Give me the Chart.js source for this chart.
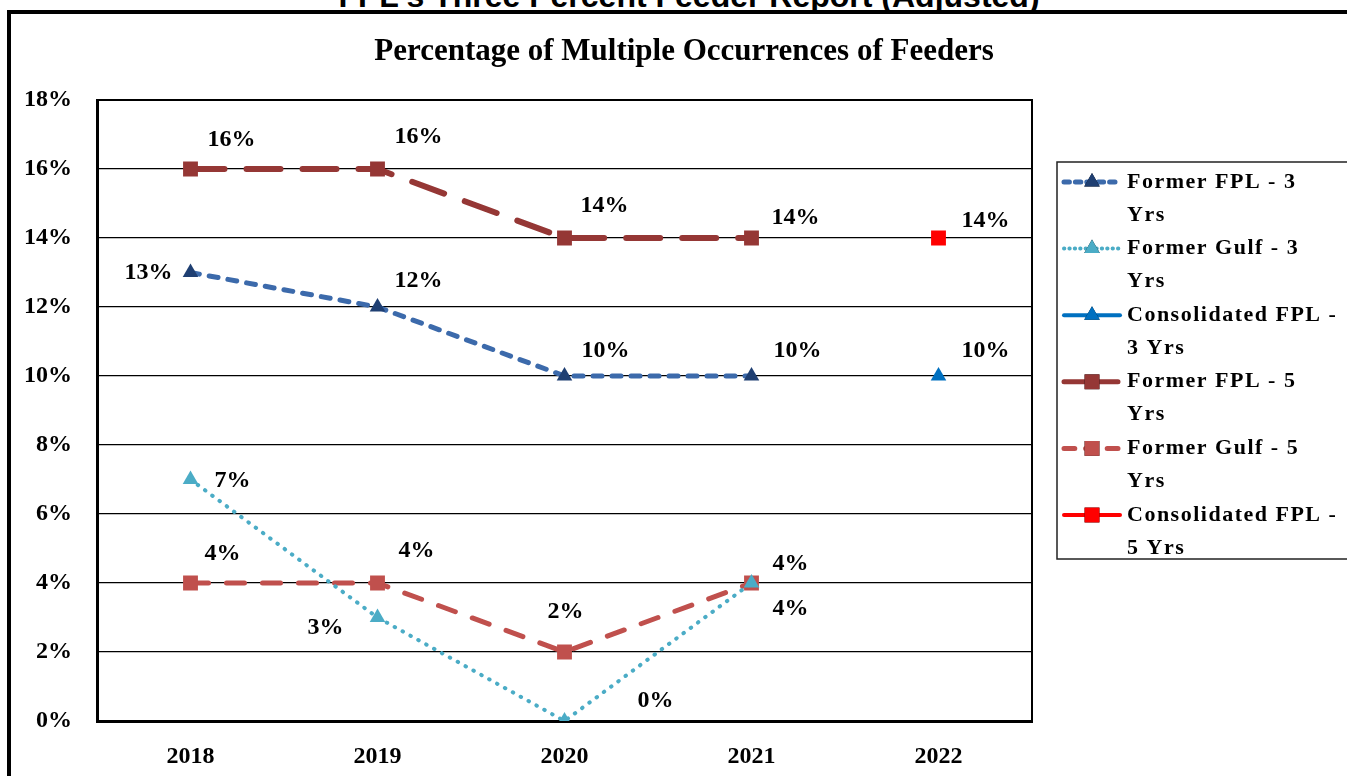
<!DOCTYPE html>
<html>
<head>
<meta charset="utf-8">
<script src="https://cdn.jsdelivr.net/npm/chart.js@4.4.1/dist/chart.umd.min.js"></script>
<style>
html, body { margin: 0; padding: 0; background: #fff; overflow: hidden; }
#wrap { position: relative; width: 1347px; height: 776px; overflow: hidden; }
#frame { position: absolute; left: 7px; top: 10px; width: 2000px; height: 2000px; border-top: 4px solid #000; border-left: 4px solid #000; }
#report { position: absolute; left: 0; top: -20px; width: 1378px; text-align: center; font: bold 32px "Liberation Sans", Arial, sans-serif; line-height: 32px; white-space: nowrap; }
canvas { position: absolute; left: 0; top: 0; }
</style>
</head>
<body>
<div id="wrap">
  <div id="report">FPL's Three Percent Feeder Report (Adjusted)</div>
  <div id="frame"></div>
  <canvas id="feederChart" width="1347" height="776"></canvas>
</div>
<script>
// data
const years = ['2018', '2019', '2020', '2021', '2022'];
const formerFpl3 = [13, 12, 10, 10, null];
const formerGulf3 = [7, 3, 0, 4, null];
const consolidatedFpl3 = [null, null, null, null, 10];
const formerFpl5 = [16, 16, 14, 14, null];
const formerGulf5 = [4, 4, 2, 4, null];
const consolidatedFpl5 = [null, null, null, null, 14];
const yTicks = [0, 2, 4, 6, 8, 10, 12, 14, 16, 18];

// where each value label sits relative to its point (px)
const labelOffsets = [
    [[-42, 0], [41, -26], [41, -25], [46, -25], null],
    [[42, 1], [-52, 10], [91, -20], [39, 26], null],
    [null, null, null, null, [47, -25]],
    [[41, -29], [41, -32], [40, -32], [44, -20], null],
    [[32, -29], [39, -32], [1, -40], [39, -19], null],
    [null, null, null, null, [47, -17]]
];
// number of words on the first legend line
const legendBreaks = [4, 4, 3, 4, 4, 3];

const serif = '"Liberation Serif", "Times New Roman", serif';
const ctx = document.getElementById('feederChart').getContext('2d');

function series(label, data, color, pointColor, dash, width, style, radius) {
    return {
        label: label,
        data: data,
        borderColor: color,
        backgroundColor: pointColor,
        borderWidth: width,
        borderDash: dash,
        borderCapStyle: 'round',
        tension: 0,
        pointStyle: style,
        pointRadius: radius,
        pointBackgroundColor: pointColor,
        pointBorderWidth: 0,
        spanGaps: false
    };
}

const datasets = [
    series('Former FPL - 3 Yrs', formerFpl3, '#3c6aab', '#1f3f72', [9, 10], 5, 'triangle', 9),
    series('Former Gulf - 3 Yrs', formerGulf3, '#4bacc6', '#4bacc6', [0.5, 8.5], 4, 'triangle', 9),
    series('Consolidated FPL - 3 Yrs', consolidatedFpl3, '#0070c0', '#0070c0', [], 4, 'triangle', 9),
    series('Former FPL - 5 Yrs', formerFpl5, '#953735', '#953735', [34, 22], 6, 'rect', 10.5),
    series('Former Gulf - 5 Yrs', formerGulf5, '#c0504d', '#c0504d', [18, 18], 5, 'rect', 10.5),
    series('Consolidated FPL - 5 Yrs', consolidatedFpl5, '#ff0000', '#ff0000', [], 4, 'rect', 10.5)
];

// title, frame, value labels and legend box
const extras = {
    id: 'extras',
    afterDatasetsDraw(chart) {
        const c = chart.ctx;
        const a = chart.chartArea;
        c.save();
        c.strokeStyle = '#000';
        c.lineWidth = 2;
        c.beginPath();
        c.moveTo(a.left, a.top);
        c.lineTo(a.right, a.top);
        c.lineTo(a.right, a.bottom);
        c.stroke();

        c.fillStyle = '#000';
        c.textAlign = 'center';
        c.textBaseline = 'middle';
        c.font = 'bold 31px ' + serif;
        c.fillText('Percentage of Multiple Occurrences of Feeders', 684, 52);

        c.font = 'bold 24px ' + serif;
        chart.data.datasets.forEach((ds, i) => {
            const meta = chart.getDatasetMeta(i);
            ds.data.forEach((v, j) => {
                if (v === null || !labelOffsets[i][j]) return;
                const pt = meta.data[j];
                c.fillText(v + '%', pt.x + labelOffsets[i][j][0], pt.y + labelOffsets[i][j][1]);
            });
        });

        // legend
        c.lineWidth = 1.5;
        c.strokeStyle = '#222';
        c.strokeRect(1057, 162, 320, 397);
        c.textAlign = 'left';
        c.font = 'bold 22px ' + serif;
        c.letterSpacing = '1.5px';
        chart.data.datasets.forEach((ds, i) => {
            const y = 182 + i * 66.6;
            c.save();
            c.strokeStyle = ds.borderColor;
            c.lineWidth = Math.min(ds.borderWidth, 5);
            c.lineCap = 'round';
            c.setLineDash(ds.borderDash.length ? ds.borderDash.map(d => d * 0.6) : []);
            c.beginPath();
            c.moveTo(1064, y);
            c.lineTo(1120, y);
            c.stroke();
            c.restore();
            Chart.helpers.drawPoint(c, {
                pointStyle: ds.pointStyle, radius: ds.pointRadius, rotation: 0, borderWidth: 0
            }, 1092, y);
            c.fillStyle = ds.pointBackgroundColor;
            c.fill();
            c.fillStyle = '#000';
            const words = ds.label.split(' ');
            c.fillText(words.slice(0, legendBreaks[i]).join(' '), 1127, y);
            c.fillText(words.slice(legendBreaks[i]).join(' '), 1127, y + 33);
        });
        c.restore();
    }
};

const feederChart = new Chart(ctx, {
    type: 'line',
    data: { labels: years, datasets: datasets },
    options: {
        responsive: false,
        devicePixelRatio: 1,
        animation: false,
        layout: { padding: { top: 100, right: 315, left: 0, bottom: 0 } },
        plugins: { legend: { display: false }, title: { display: false }, tooltip: { enabled: false } },
        scales: {
            x: {
                offset: true,
                grid: { display: false, drawTicks: false },
                border: { display: true, color: '#000', width: 3 },
                ticks: { padding: 21, color: '#000', font: { family: serif, size: 24, weight: 'bold' } },
                afterFit(scale) { scale.height = 55; }
            },
            y: {
                min: 0,
                max: 18,
                afterBuildTicks(scale) { scale.ticks = yTicks.map(v => ({ value: v })); },
                grid: { color: '#000', lineWidth: 1.2, drawTicks: false },
                border: { display: true, color: '#000', width: 3 },
                ticks: {
                    padding: 25,
                    color: '#000',
                    font: { family: serif, size: 24, weight: 'bold' },
                    callback: v => v + '%'
                },
                afterFit(scale) { scale.width = 97; }
            }
        }
    },
    plugins: [extras]
});
</script>
</body>
</html>
